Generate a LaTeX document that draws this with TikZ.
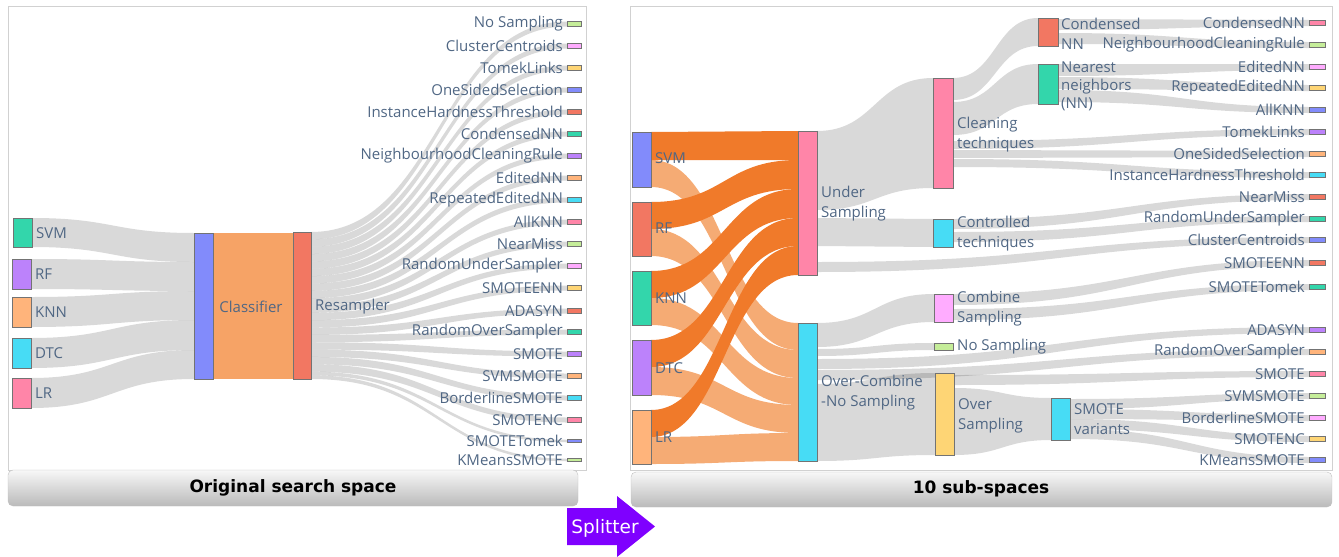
\documentclass[tikz,border=0pt]{standalone}
\usepackage{fontspec}
\setmainfont{Open Sans}
\newfontfamily\dvs{DejaVu Sans}
\definecolor{pbl}{HTML}{828BFB}
\definecolor{prd}{HTML}{F27762}
\definecolor{ptl}{HTML}{33D6AB}
\definecolor{ppu}{HTML}{BC82FB}
\definecolor{por}{HTML}{FFB47B}
\definecolor{pcy}{HTML}{47DCF5}
\definecolor{ppk}{HTML}{FF85A8}
\definecolor{plm}{HTML}{C5ED99}
\definecolor{plp}{HTML}{FFACFF}
\definecolor{pye}{HTML}{FED575}
\definecolor{lblc}{HTML}{506784}
\definecolor{dkor}{HTML}{F07A2A}
\definecolor{ltor}{HTML}{F5AB74}
\definecolor{midor}{HTML}{F6A366}
\definecolor{splt}{HTML}{7F00FF}
\newcommand\sband[7]{%
  \fill[#7] (#1,#2) .. controls ({(#1+#4)/2},#2) and ({(#1+#4)/2},#5) .. (#4,#5)
    -- (#4,#6) .. controls ({(#1+#4)/2},#6) and ({(#1+#4)/2},#3) .. (#1,#3) -- cycle;}
\newcommand\barnode[6]{%
  \node[barst, fill=#6, minimum width={(#4-#2)*1pt}, minimum height={(#5-#3)*1pt}]
    (#1) at ({(#2+#4)/2},{(#3+#5)/2}) {};}
\tikzset{
  barst/.style={draw=black!55, line width=0.6pt, inner sep=0pt, outer sep=0pt},
  gband/.style={fill=black, fill opacity=0.15},
  lbl/.style={font=\fontsize{15}{20}\selectfont, text=lblc, inner sep=0pt, align=left},
  panelst/.style={draw=black!18, line width=0.8pt},
  hdr/.style={draw=black!25, rounded corners=5pt, top color=black!3, bottom color=black!27},
  hdrtxt/.style={font=\dvs\bfseries\fontsize{17}{20}\selectfont, text=black, inner sep=0pt}
}
\def\leftleaves{0/24/plm/No Sampling/2.5, 1/46/plp/ClusterCentroids/2.5,
  2/68/pye/TomekLinks/2.5, 3/90/pbl/OneSidedSelection/2.5,
  4/112/prd/InstanceHardnessThreshold/2.5, 5/134/ptl/CondensedNN/2.5,
  6/156/ppu/NeighbourhoodCleaningRule/2.5, 7/178/por/EditedNN/2.5,
  8/200/pcy/RepeatedEditedNN/2.5, 9/222/ppk/AllKNN/2.5,
  10/244/plm/NearMiss/2.5, 11/266/plp/RandomUnderSampler/2.5,
  12/288/pye/SMOTEENN/2.5, 13/311/prd/ADASYN/2.5,
  14/332/ptl/RandomOverSampler/2.5, 15/354/ppu/SMOTE/2.5,
  16/376/por/SVMSMOTE/2.5, 17/398/pcy/BorderlineSMOTE/2.5,
  18/420/ppk/SMOTENC/2.5, 19/441/pbl/SMOTETomek/1.25, 20/460/plm/KMeansSMOTE/1.25}
\def\rightleaves{0/23/ppk/CondensedNN/1058/19/30, 1/45/plm/NeighbourhoodCleaningRule/1058/33/44,
  2/67/plp/EditedNN/1058/64/76, 3/88/pye/RepeatedEditedNN/1058/77/89,
  4/110/pbl/AllKNN/1058/90/102, 5/132/ppu/TomekLinks/953/141/149,
  6/154/por/OneSidedSelection/953/150/158, 7/175/pcy/InstanceHardnessThreshold/953/159/167,
  8/197/prd/NearMiss/953/219/229, 9/219/ptl/RandomUnderSampler/953/232/242,
  10/240/pbl/ClusterCentroids/817/262/272, 11/263/prd/SMOTEENN/953/294/305,
  12/287/ptl/SMOTETomek/953/309/320, 13/330/ppu/ADASYN/817/359/369,
  14/352/por/RandomOverSampler/817/370/380, 15/374/ppk/SMOTE/954/375/385,
  16/396/plm/SVMSMOTE/1070/399/409, 17/418/plp/BorderlineSMOTE/1070/409/419,
  18/439/pye/SMOTENC/1070/419/429, 19/460/pbl/KMeansSMOTE/1070/429/439}
\begin{document}
\begin{tikzpicture}[x=1pt,y=-1pt]
\useasboundingbox (0,0) rectangle (1339,557);
% panel frames
\draw[panelst] (8,6) rectangle (586,470);
\draw[panelst] (630,6) rectangle (1332,470);
% ---------------- left panel bands
\sband{32}{218}{247}{194}{233}{262}{gband}
\sband{31}{259}{289}{194}{262}{291}{gband}
\sband{31}{297}{327}{194}{291}{320}{gband}
\sband{31}{338}{368}{194}{320}{350}{gband}
\sband{31}{378}{408}{194}{350}{379}{gband}
\fill[midor] (213,233) rectangle (293,379);
\foreach \i/\y/\c/\t/\h in \leftleaves {
  \pgfmathsetmacro\sa{232+7.35*min(\i,19)+3.675*max(\i-19,0)}
  \pgfmathsetmacro\sb{\sa+2.94*\h}
  \sband{311}{\sa}{\sb}{567}{\y-\h}{\y+\h}{gband}
}
% ---------------- right panel bands
\sband{651}{160}{187}{798}{323}{350}{ltor}
\sband{651}{229}{256}{798}{350}{378}{ltor}
\sband{651}{298}{325}{798}{378}{405}{ltor}
\sband{651}{367}{395}{798}{405}{433}{ltor}
\sband{651}{437}{464}{798}{433}{461}{ltor}
\sband{651}{132}{160}{798}{131}{160}{dkor}
\sband{651}{202}{229}{798}{160}{189}{dkor}
\sband{651}{271}{298}{798}{189}{218}{dkor}
\sband{651}{340}{367}{798}{218}{246}{dkor}
\sband{651}{410}{437}{798}{246}{275}{dkor}
\sband{817}{131}{210}{933}{78}{188}{gband}
\sband{817}{218}{246}{933}{219}{247}{gband}
\sband{953}{78}{100}{1038}{18}{46}{gband}
\sband{953}{102}{135}{1038}{64}{104}{gband}
\sband{817}{323}{347}{934}{294}{322}{gband}
\sband{817}{349}{356}{934}{343}{350}{gband}
\sband{817}{384}{461}{935}{373}{455}{gband}
\sband{954}{388}{455}{1051}{398}{440}{gband}
\foreach \i/\y/\c/\t/\sx/\sa/\sb in \rightleaves {
  \sband{\sx}{\sa}{\sb}{1309}{\y-3}{\y+3}{gband}
}
% ---------------- left panel nodes
\barnode{lsvm}{13}{218}{32}{247}{ptl}
\barnode{lrf}{12}{259}{31}{289}{ppu}
\barnode{lknn}{12}{297}{31}{327}{por}
\barnode{ldtc}{12}{338}{31}{368}{pcy}
\barnode{llr}{12}{378}{31}{408}{ppk}
\barnode{lclf}{194}{233}{213}{379}{pbl}
\barnode{lres}{293}{232}{311}{379}{prd}
\node[lbl, anchor=west] (lsvmt) at (36,233) {SVM};
\node[lbl, anchor=west] (lrft) at (35,274) {RF};
\node[lbl, anchor=west] (lknnt) at (35,312) {KNN};
\node[lbl, anchor=west] (ldtct) at (35,353) {DTC};
\node[lbl, anchor=west] (llrt) at (35,393) {LR};
\node[lbl] (lclft) at (251,307) {Classifier};
\node[lbl, anchor=west] (lrest) at (315,307) {Resampler};
\foreach \i/\y/\c/\t/\h in \leftleaves {
  \node[barst, fill=\c, minimum width=14pt, minimum height={2*\h*1pt}] (lleaf\i) at (574,\y) {};
  \node[lbl, anchor=east] (lleaft\i) at (563,\y) {\t};
}
% ---------------- right panel nodes
\barnode{rsvm}{632}{132}{651}{187}{pbl}
\barnode{rrf}{632}{202}{651}{256}{prd}
\barnode{rknn}{632}{271}{651}{325}{ptl}
\barnode{rdtc}{632}{340}{651}{395}{ppu}
\barnode{rlr}{632}{410}{651}{464}{por}
\barnode{under}{798}{131}{817}{275}{ppk}
\barnode{overc}{798}{323}{817}{461}{pcy}
\barnode{clean}{933}{78}{953}{188}{ppk}
\barnode{ctrl}{933}{219}{953}{247}{pcy}
\barnode{comb}{934}{294}{953}{322}{plp}
\barnode{nosamp}{934}{343}{953}{350}{plm}
\barnode{overs}{935}{373}{954}{455}{pye}
\barnode{cnn}{1038}{18}{1058}{46}{prd}
\barnode{nn}{1038}{64}{1058}{104}{ptl}
\barnode{smv}{1051}{398}{1070}{440}{pcy}
\node[lbl, anchor=west] (rsvmt) at (655,158) {SVM};
\node[lbl, anchor=west] (rrft) at (655,228) {RF};
\node[lbl, anchor=west] (rknnt) at (655,298) {KNN};
\node[lbl, anchor=west] (rdtct) at (655,368) {DTC};
\node[lbl, anchor=west] (rlrt) at (655,437) {LR};
\node[lbl, anchor=west] (undert) at (821,204) {Under\\Sampling};
\node[lbl, anchor=west] (overct) at (821,393) {Over-Combine\\-No Sampling};
\node[lbl, anchor=west] (cleant) at (957,135) {Cleaning\\techniques};
\node[lbl, anchor=west] (ctrlt) at (957,234) {Controlled\\techniques};
\node[lbl, anchor=west] (combt) at (957,309) {Combine\\Sampling};
\node[lbl, anchor=west] (nosampt) at (957,347) {No Sampling};
\node[lbl, anchor=west] (overst) at (958,416) {Over\\Sampling};
\node[lbl, anchor=west] (cnnt) at (1061,34) {Condensed\\NN};
\node[lbl, anchor=west, font=\fontsize{15}{18}\selectfont] (nnt) at (1061,86) {Nearest\\neighbors\\(NN)};
\node[lbl, anchor=west] (smvt) at (1074,419) {SMOTE\\variants};
\foreach \i/\y/\c/\t/\sx/\sa/\sb in \rightleaves {
  \node[barst, fill=\c, minimum width=16pt, minimum height=5pt] (rleaf\i) at (1317,\y) {};
  \node[lbl, anchor=east] (rleaft\i) at (1305,\y) {\t};
}
% ---------------- header bars
\draw[hdr] (8,470) rectangle (578,506);
\node[hdrtxt] (hleft) at (293,488) {Original search space};
\draw[hdr] (631,472) rectangle (1332,507);
\node[hdrtxt] (hright) at (981,489) {10 sub-spaces};
% ---------------- splitter arrow
\fill[splt] (567,508) -- (617,508) -- (617,496) -- (655,526.5) -- (617,557) -- (617,545) -- (567,545) -- cycle;
\node[font=\dvs\fontsize{18.5}{20}\selectfont, text=white, inner sep=0pt] (splitter) at (605,528) {Splitter};
\end{tikzpicture}
\end{document}
